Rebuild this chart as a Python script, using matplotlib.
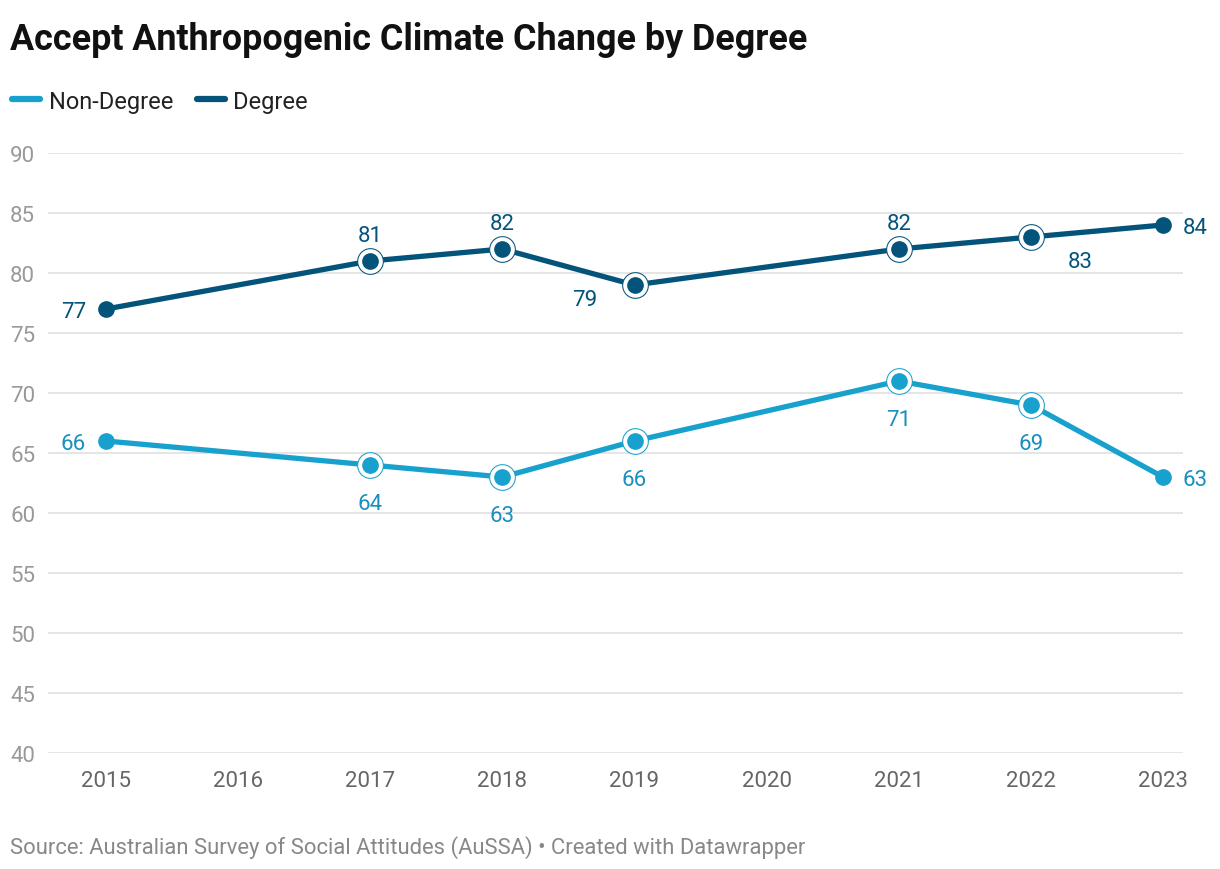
import matplotlib
matplotlib.use("Agg")
import matplotlib.pyplot as plt

plt.rcParams['font.family'] = ['Roboto', 'DejaVu Sans']

years = [2015, 2017, 2018, 2019, 2021, 2022, 2023]
non_degree = [66, 64, 63, 66, 71, 69, 63]
degree = [77, 81, 82, 79, 82, 83, 84]
x_ticks = [2015, 2016, 2017, 2018, 2019, 2020, 2021, 2022, 2023]
y_ticks = [40, 45, 50, 55, 60, 65, 70, 75, 80, 85, 90]

c_non = '#18a1cd'
c_non_lbl = '#1a8fbf'
c_deg = '#03537a'

W, H = 1220, 870
fig = plt.figure(figsize=(W / 100, H / 100), dpi=100)
ax = fig.add_axes([48 / W, 1 - 754 / H, (1183 - 48) / W, (754 - 154) / H])

pxyr = (1163 - 106) / 8
ax.set_xlim(2015 - (106 - 48) / pxyr, 2023 + (1183 - 1163) / pxyr)
ax.set_ylim(40, 90)

for s in ax.spines.values():
    s.set_visible(False)
ax.set_yticks(y_ticks)
ax.set_xticks(x_ticks)
ax.grid(axis='y', color='#e0e0e0', linewidth=1.2)
ax.set_axisbelow(True)
ax.tick_params(axis='both', length=0)
ax.tick_params(axis='y', pad=38 * 0.72, labelsize=16, labelcolor='#999999')
ax.tick_params(axis='x', pad=12.5, labelsize=16, labelcolor='#666666')
for t in ax.get_yticklabels():
    t.set_horizontalalignment('left')

def draw(vals, col, lblcol, offsets):
    ax.plot(years, vals, color=col, linewidth=3.8, zorder=3, clip_on=False,
            solid_capstyle='round')
    inner_x = years[1:-1]
    inner_y = vals[1:-1]
    ax.plot(inner_x, inner_y, 'o', markersize=18.5, markerfacecolor='white',
            markeredgecolor=col, markeredgewidth=0.75, zorder=4, clip_on=False)
    ax.plot(years, vals, 'o', markersize=11, color=col, zorder=5, clip_on=False)
    for xv, yv, (dx, dy, ha) in zip(years, vals, offsets):
        ax.annotate(f'{yv}', (xv, yv), xytext=(dx * 0.72, (dy - 3) * 0.72),
                    textcoords='offset points', ha=ha, va='center',
                    fontsize=16, color=lblcol, zorder=6)

deg_off = [(-20, 0, 'right'), (0, 29, 'center'), (0, 29, 'center'),
           (-50, -12, 'center'), (0, 29, 'center'), (49, -22, 'center'),
           (20, 0, 'left')]
non_off = [(-20, 0, 'right'), (0, -35, 'center'), (0, -35, 'center'),
           (0, -35, 'center'), (0, -35, 'center'), (0, -35, 'center'),
           (20, 0, 'left')]

draw(degree, c_deg, c_deg, deg_off)
draw(non_degree, c_non, c_non_lbl, non_off)

fig.text(10 / W, 1 - 40 / H, 'Accept Anthropogenic Climate Change by Degree',
         fontsize=25.8, fontweight='bold', color='#111111', va='center', ha='left')

# legend
ly = 1 - 100 / H
fig.add_artist(plt.Line2D([12 / W, 40 / W], [ly, ly], color=c_non, linewidth=4.5,
                          solid_capstyle='round', transform=fig.transFigure))
fig.text(49 / W, 1 - 102 / H, 'Non-Degree', fontsize=17, color='#222222', va='center', ha='left')
fig.add_artist(plt.Line2D([197 / W, 225 / W], [ly, ly], color=c_deg, linewidth=4.5,
                          solid_capstyle='round', transform=fig.transFigure))
fig.text(233 / W, 1 - 102 / H, 'Degree', fontsize=17, color='#222222', va='center', ha='left')

fig.text(10 / W, 1 - 848 / H,
         'Source: Australian Survey of Social Attitudes (AuSSA) \u2022 Created with Datawrapper',
         fontsize=15.8, color='#888888', va='center', ha='left')

fig.savefig('out.png', dpi=100, facecolor='white')
